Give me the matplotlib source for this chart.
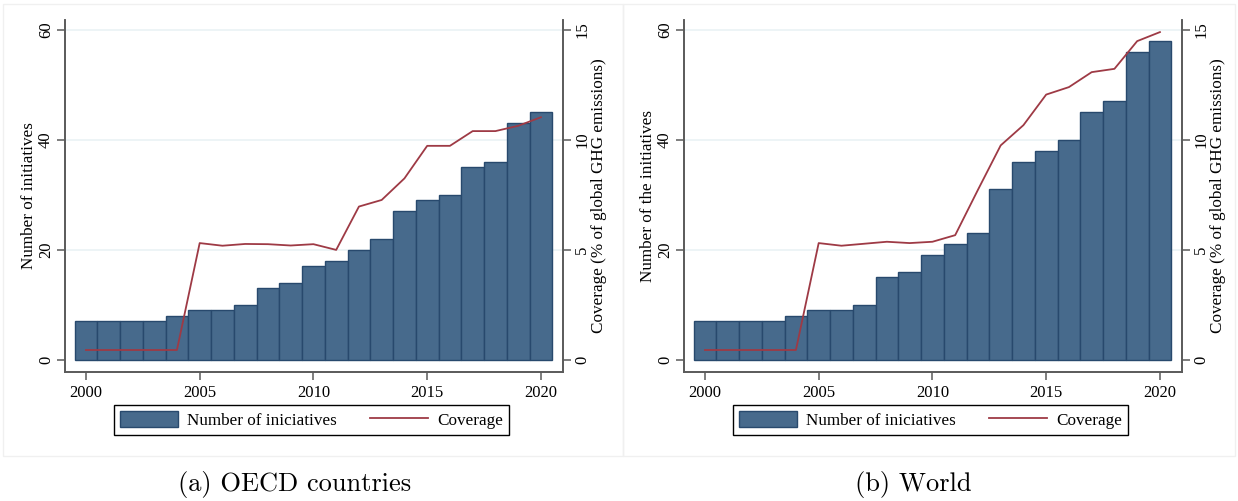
import numpy as np
import matplotlib.pyplot as plt
from matplotlib.patches import Rectangle

years = np.arange(2000, 2021)

# panel (a) OECD countries
oecd_count = [7, 7, 7, 7, 8, 9, 9, 10, 13, 14, 17, 18, 20, 22, 27, 29, 30, 35, 36, 43, 45]
oecd_cov = [0.45, 0.45, 0.45, 0.45, 0.45, 5.31, 5.19, 5.27, 5.26, 5.2, 5.26, 5.0,
            6.97, 7.27, 8.25, 9.73, 9.73, 10.4, 10.4, 10.64, 11.03]

# panel (b) World
world_count = [7, 7, 7, 7, 8, 9, 9, 10, 15, 16, 19, 21, 23, 31, 36, 38, 40, 45, 47, 56, 58]
world_cov = [0.45, 0.45, 0.45, 0.45, 0.45, 5.31, 5.19, 5.28, 5.37, 5.31, 5.37, 5.67,
             7.73, 9.75, 10.67, 12.06, 12.4, 13.08, 13.23, 14.49, 14.9]

ylabels = ["Number of initiatives", "Number of the initiatives"]
captions = ["(a) OECD countries", "(b) World"]

bar_col = "#476a8c"
bar_edge = "#28496d"
line_col = "#9e3a45"
spine_col = "#5a5a5a"
grid_col = "#eaf2f5"
serif = "Liberation Serif"

fig = plt.figure(figsize=(12.38, 5.01), dpi=100)
fig.patch.set_facecolor("white")

# faint panel borders
for x0, w in [(3 / 1238, 620 / 1238), (623 / 1238, 612 / 1238)]:
    fig.patches.append(Rectangle((x0, 1 - 456 / 501), w, 452 / 501, transform=fig.transFigure,
                                 fill=False, edgecolor="#f0f0f0", linewidth=1))

lefts = [65 / 1238, 684 / 1238]
data = [(oecd_count, oecd_cov), (world_count, world_cov)]

for i in range(2):
    counts, cov = data[i]
    ax = fig.add_axes([lefts[i], 1 - 372 / 501, 498 / 1238, 352 / 501])
    ax2 = ax.twinx()

    ax.set_xlim(1999.08, 2020.97)
    ax.set_ylim(-2.2, 61.8)
    ax2.set_ylim(-2.2 / 4, 61.8 / 4)

    for g in [20, 40, 60]:
        ax.axhline(g, color=grid_col, linewidth=1.2, zorder=0)
    bars = ax.bar(years, counts, width=1.0, color=bar_col, edgecolor=bar_edge, linewidth=1,
                  zorder=2, label="Number of iniciatives")
    ln, = ax2.plot(years, cov, color=line_col, linewidth=1.3, label="Coverage")

    for a in (ax, ax2):
        a.spines["top"].set_visible(False)
        for s in ["left", "right", "bottom"]:
            a.spines[s].set_color(spine_col)
            a.spines[s].set_linewidth(1.2)
        a.tick_params(colors="black", length=6, width=1.1, labelsize=12, color=spine_col)
        a.tick_params(axis="y", pad=2)

    ax.set_xticks([2000, 2005, 2010, 2015, 2020])
    ax.set_yticks([0, 20, 40, 60])
    ax2.set_yticks([0, 5, 10, 15])
    ax.set_xticklabels(["2000", "2005", "2010", "2015", "2020"], fontfamily=serif, fontsize=12)
    ax.set_yticklabels(["0", "20", "40", "60"], rotation=90, va="center", fontfamily=serif, fontsize=12)
    ax2.set_yticklabels(["0", "5", "10", "15"], rotation=90, va="center", fontfamily=serif, fontsize=12)
    ax.set_ylabel(ylabels[i], fontfamily=serif, fontsize=12.3, labelpad=0.5)
    ax2.set_ylabel("Coverage (% of global GHG emissions)", fontfamily=serif, fontsize=12.3,
                   rotation=90, labelpad=0.5)

    cx = (lefts[i] + 249 / 1238)
    fig.legend([bars, ln], ["Number of iniciatives", "Coverage"], ncol=2,
               loc="center", bbox_to_anchor=(cx - 0.002, 1 - 420 / 501),
               prop={"family": serif, "size": 12.3}, frameon=True, fancybox=False,
               edgecolor="black", framealpha=1, handlelength=3.4, handleheight=1.0,
               handletextpad=0.55, columnspacing=1.9, borderpad=0.35)

    fig.text(cx - 0.016, 1 - 484 / 501, captions[i], ha="center", va="center",
             fontfamily="cmr10", fontsize=19)

fig.savefig("out.png", dpi=100)
